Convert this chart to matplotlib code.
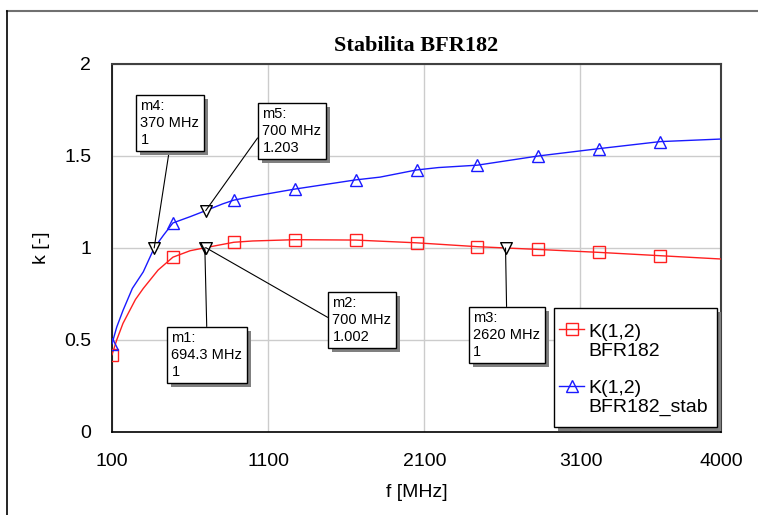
import matplotlib
matplotlib.use("Agg")
import matplotlib.pyplot as plt
import matplotlib.patheffects as pe
from matplotlib.lines import Line2D
from matplotlib.patches import Rectangle

plt.rcParams['font.family'] = ['Liberation Sans', 'DejaVu Sans']

# K(1,2) BFR182 (red)
f_red = [100, 130, 170, 250, 300, 395, 490, 600, 700, 880, 1000, 1270, 1660,
         2050, 2440, 2620, 2830, 3220, 3610, 4000]
k_red = [0.42, 0.50, 0.59, 0.72, 0.78, 0.88, 0.95, 0.985, 1.002, 1.031, 1.038,
         1.045, 1.043, 1.028, 1.007, 1.0, 0.992, 0.976, 0.958, 0.94]

# K(1,2) BFR182_stab (blue)
f_blue = [100, 130, 170, 230, 300, 370, 430, 490, 600, 700, 810, 880, 1000, 1270,
          1660, 1816, 2050, 2190, 2440, 2830, 3220, 3610, 4000]
k_blue = [0.48, 0.57, 0.66, 0.78, 0.87, 1.0, 1.07, 1.136, 1.17, 1.203, 1.24, 1.26,
          1.28, 1.32, 1.37, 1.385, 1.424, 1.437, 1.45, 1.50, 1.54, 1.578, 1.592]

# symbols every 390 MHz
mark_freqs = [100, 490, 880, 1270, 1660, 2050, 2440, 2830, 3220, 3610]

# marker readouts
mk_names = ['m1', 'm2', 'm3', 'm4', 'm5']
mk_freq = [694.3, 700, 2620, 370, 700]
mk_val = [1, 1.002, 1, 1, 1.203]
mk_freq_txt = ['694.3', '700', '2620', '370', '700']
mk_val_txt = ['1', '1.002', '1', '1', '1.203']

xticks = [100, 1100, 2100, 3100, 4000]
yticks = [0, 0.5, 1, 1.5, 2]

RED = '#ff2020'
BLUE = '#1a1aff'

fig = plt.figure(figsize=(7.58, 5.15), dpi=100)
ax = fig.add_axes([0.1478, 0.1612, 0.8034, 0.7146])

red_idx = [f_red.index(v) for v in mark_freqs]
blue_idx = [f_blue.index(v) for v in mark_freqs]

ax.plot(f_red, k_red, color=RED, lw=1.0, marker='s', ms=9,
        mfc='none', mec=RED, mew=1.0, markevery=red_idx, zorder=3)
ax.plot(f_blue, k_blue, color=BLUE, lw=1.0, marker='^', ms=9,
        mfc='none', mec=BLUE, mew=1.0, markevery=blue_idx, zorder=3)

ax.scatter(mk_freq, mk_val, marker='v', s=70, facecolors='white',
           edgecolors='black', linewidths=1.0, zorder=5)

ax.set_xlim(100, 4000)
ax.set_ylim(0, 2)
ax.set_xticks(xticks)
ax.set_xticklabels([str(t) for t in xticks])
ax.set_yticks(yticks)
ax.set_yticklabels(['0', '0.5', '1', '1.5', '2'])
ax.tick_params(length=0, labelsize=14, pad=15)
ax.grid(True, color='#cccccc', lw=1.0)
ax.set_axisbelow(True)
for s in ['top', 'right']:
    ax.spines[s].set_color('#404040')
    ax.spines[s].set_linewidth(1.5)
for s in ['bottom', 'left']:
    ax.spines[s].set_color('black')
    ax.spines[s].set_linewidth(1.2)

ax.set_xlabel('f [MHz]', fontsize=14, labelpad=10)
ax.set_ylabel('k [-]', fontsize=14, labelpad=10)
ax.set_title('Stabilita BFR182', fontsize=16, fontweight='bold',
             family='Liberation Serif', pad=9)

shadow = [pe.SimplePatchShadow(offset=(3, -3), shadow_rgbFace='#808080', alpha=1.0),
          pe.Normal()]

# marker boxes: text top-left in axes fraction, where the leader leaves the box
box_pos = {'m1': (0.0975, 0.2734, (0.5, 1)),
           'm2': (0.362, 0.3685, (0, 0.5)),
           'm3': (0.593, 0.3277, (0.5, 1)),
           'm4': (0.0466, 0.9038, (0.5, 0)),
           'm5': (0.247, 0.882, (0, 0.5))}
for name, fq, kv, ft, vt in zip(mk_names, mk_freq, mk_val, mk_freq_txt, mk_val_txt):
    tx, ty, rp = box_pos[name]
    ann = ax.annotate(f'{name}:\n{ft} MHz\n{vt}', xy=(fq, kv), xytext=(tx, ty),
                      textcoords='axes fraction', ha='left', va='top',
                      fontsize=10.5, linespacing=1.25,
                      bbox=dict(boxstyle='square,pad=0.3', fc='white', ec='black', lw=1.0),
                      arrowprops=dict(arrowstyle='-', color='black', lw=0.8,
                                      relpos=rp, shrinkA=0, shrinkB=0),
                      zorder=6)
    ann.get_bbox_patch().set_path_effects(shadow)

# legend box, drawn by hand so the symbol sits on the first text line
def px(x, y):
    return (x - 112) / 609, (432 - y) / 368

x0, y0 = px(554, 427)
x1, y1 = px(717, 308)
box = Rectangle((x0, y0), x1 - x0, y1 - y0, transform=ax.transAxes,
                fc='white', ec='black', lw=1.0, zorder=7)
box.set_path_effects(shadow)
ax.add_patch(box)

entries = [('K(1,2)', 'BFR182', RED, 's', 329.3, 336.7),
           ('K(1,2)', 'BFR182_stab', BLUE, '^', 385.7, 393.0)]
for l1, l2, col, mk, hy, base in entries:
    ha_, hy_ = px(559, hy)
    hb_, _ = px(584, hy)
    ax.add_line(Line2D([ha_, hb_], [hy_, hy_], transform=ax.transAxes, color=col,
                       lw=1.0, zorder=8))
    ax.add_line(Line2D([(ha_ + hb_) / 2], [hy_], transform=ax.transAxes, color=col,
                       marker=mk, ms=9 if mk == 's' else 8, mfc='none', mec=col,
                       mew=1.0, zorder=8))
    tx_, ty1 = px(588, base)
    _, ty2 = px(588, base + 19)
    ax.text(tx_, ty1, l1, transform=ax.transAxes, fontsize=14, va='baseline',
            ha='left', zorder=8)
    ax.text(tx_, ty2, l2, transform=ax.transAxes, fontsize=14, va='baseline',
            ha='left', zorder=8)

# outer frame of the plot window
fig.add_artist(Line2D([0.0092, 1.0], [0.9786, 0.9786], color='#707070', lw=1.5))
fig.add_artist(Line2D([0.0092, 0.0092], [0.0, 0.9786], color='black', lw=1.2))

fig.savefig('out.png', dpi=100)
